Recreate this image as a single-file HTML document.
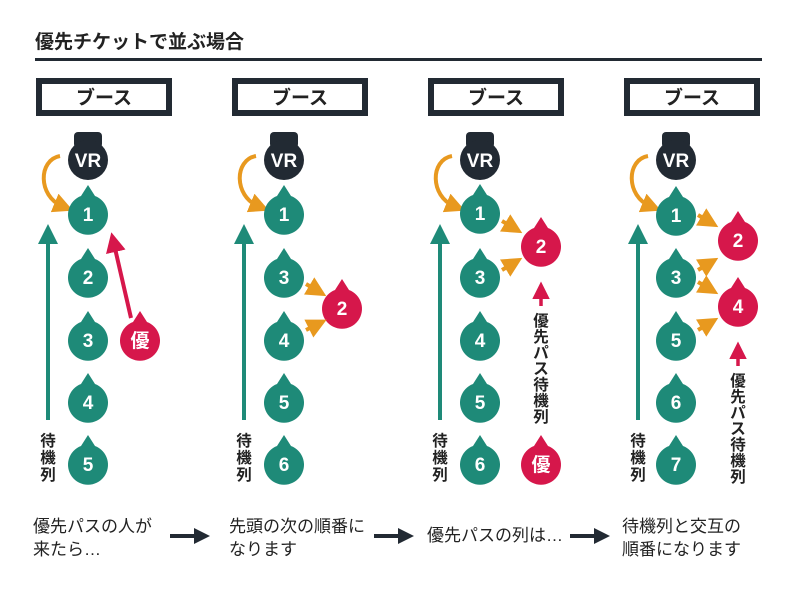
<!DOCTYPE html>
<html><head><meta charset="utf-8"><style>
html,body{margin:0;padding:0;background:#fff;}
svg{display:block;font-family:"Liberation Sans","Noto Sans CJK JP",sans-serif;}
.n{fill:#fff;font-weight:bold;font-size:19px;text-anchor:middle;}
.b{font-size:19px;font-weight:bold;fill:#222;text-anchor:middle;}
.t{font-size:17px;fill:#222;}
.v{font-size:15.5px;font-weight:bold;fill:#222;text-anchor:middle;}
</style></head><body>
<svg width="800" height="595" viewBox="0 0 800 595">
<defs>
<path id="d" d="M0,-29 L7,-18 A20,20 0 1,1 -7,-18 Z"/>
<marker id="ao" markerWidth="5" markerHeight="5" refX="2" refY="2.5" orient="auto" markerUnits="strokeWidth"><path d="M0,0 L5,2.5 L0,5 Z" fill="#e8991f"/></marker>
<marker id="ag" markerWidth="5" markerHeight="5" refX="2" refY="2.5" orient="auto" markerUnits="strokeWidth"><path d="M0,0 L5,2.5 L0,5 Z" fill="#1e8a78"/></marker>
<marker id="ar" markerWidth="5" markerHeight="5" refX="2" refY="2.5" orient="auto" markerUnits="strokeWidth"><path d="M0,0 L5,2.5 L0,5 Z" fill="#d6174b"/></marker>
<marker id="ak" markerWidth="4" markerHeight="4" refX="1" refY="2" orient="auto" markerUnits="strokeWidth"><path d="M0,0 L4,2 L0,4 Z" fill="#222a33"/></marker>
<g id="vr"><rect x="-14" y="-28" width="28" height="16" rx="4" fill="#222a33"/><circle r="20" fill="#222a33"/><text y="7" class="n">VR</text></g>
<path id="oc" d="M-28,-4 C-50,0 -50,36 -26,46" fill="none" stroke="#e8991f" stroke-width="4" marker-end="url(#ao)"/>
</defs>

<text x="35" y="48" font-size="19" font-weight="bold" fill="#222">優先チケットで並ぶ場合</text>
<rect x="35" y="58" width="727" height="3" fill="#222a33"/>

<g fill="#fff" stroke="#222a33" stroke-width="6">
<rect x="39" y="81" width="130" height="32"/>
<rect x="235" y="81" width="130" height="32"/>
<rect x="431" y="81" width="130" height="32"/>
<rect x="627" y="81" width="130" height="32"/>
</g>
<text x="104" y="104" class="b">ブース</text>
<text x="300" y="104" class="b">ブース</text>
<text x="496" y="104" class="b">ブース</text>
<text x="692" y="104" class="b">ブース</text>

<!-- column 1 -->
<use href="#vr" x="88" y="160"/>
<use href="#oc" x="88" y="160"/>
<line x1="48" y1="420" x2="48" y2="236" stroke="#1e8a78" stroke-width="4" marker-end="url(#ag)"/>
<text x="48" y="446" class="v">待</text><text x="48" y="463" class="v">機</text><text x="48" y="480" class="v">列</text>
<g fill="#1e8a78">
<use href="#d" x="88" y="214"/><use href="#d" x="88" y="277"/><use href="#d" x="88" y="340"/><use href="#d" x="88" y="402"/><use href="#d" x="88" y="464"/>
</g>
<text x="88" y="221" class="n">1</text><text x="88" y="284" class="n">2</text><text x="88" y="347" class="n">3</text><text x="88" y="409" class="n">4</text><text x="88" y="471" class="n">5</text>
<line x1="131" y1="318" x2="114" y2="244" stroke="#d6174b" stroke-width="4" marker-end="url(#ar)"/>
<use href="#d" x="140" y="340" fill="#d6174b"/><text x="140" y="347" class="n">優</text>

<!-- column 2 -->
<use href="#vr" x="284" y="160"/>
<use href="#oc" x="284" y="160"/>
<line x1="244" y1="420" x2="244" y2="236" stroke="#1e8a78" stroke-width="4" marker-end="url(#ag)"/>
<text x="244" y="446" class="v">待</text><text x="244" y="463" class="v">機</text><text x="244" y="480" class="v">列</text>
<g fill="#1e8a78">
<use href="#d" x="284" y="214"/><use href="#d" x="284" y="277"/><use href="#d" x="284" y="340"/><use href="#d" x="284" y="402"/><use href="#d" x="284" y="464"/>
</g>
<text x="284" y="221" class="n">1</text><text x="284" y="284" class="n">3</text><text x="284" y="347" class="n">4</text><text x="284" y="409" class="n">5</text><text x="284" y="471" class="n">6</text>
<use href="#d" x="342" y="308" fill="#d6174b"/><text x="342" y="315" class="n">2</text>
<line x1="306" y1="284" x2="316" y2="290" stroke="#e8991f" stroke-width="4" marker-end="url(#ao)"/>
<line x1="306" y1="330" x2="316" y2="325" stroke="#e8991f" stroke-width="4" marker-end="url(#ao)"/>

<!-- column 3 -->
<use href="#vr" x="480" y="160"/>
<use href="#oc" x="480" y="160"/>
<line x1="440" y1="420" x2="440" y2="236" stroke="#1e8a78" stroke-width="4" marker-end="url(#ag)"/>
<text x="440" y="446" class="v">待</text><text x="440" y="463" class="v">機</text><text x="440" y="480" class="v">列</text>
<g fill="#1e8a78">
<use href="#d" x="480" y="213"/><use href="#d" x="480" y="277"/><use href="#d" x="480" y="340"/><use href="#d" x="480" y="402"/><use href="#d" x="480" y="464"/>
</g>
<text x="480" y="220" class="n">1</text><text x="480" y="284" class="n">3</text><text x="480" y="347" class="n">4</text><text x="480" y="409" class="n">5</text><text x="480" y="471" class="n">6</text>
<use href="#d" x="541" y="246" fill="#d6174b"/><text x="541" y="253" class="n">2</text>
<line x1="502" y1="221" x2="512" y2="227" stroke="#e8991f" stroke-width="4" marker-end="url(#ao)"/>
<line x1="502" y1="270" x2="512" y2="264" stroke="#e8991f" stroke-width="4" marker-end="url(#ao)"/>
<line x1="541" y1="306" x2="541" y2="292" stroke="#d6174b" stroke-width="3.5" marker-end="url(#ar)"/>
<text x="541" y="326" class="v">優</text><text x="541" y="342" class="v">先</text><text x="541" y="358" class="v">パ</text><text x="541" y="374" class="v">ス</text><text x="541" y="390" class="v">待</text><text x="541" y="406" class="v">機</text><text x="541" y="422" class="v">列</text>
<use href="#d" x="541" y="464" fill="#d6174b"/><text x="541" y="471" class="n">優</text>

<!-- column 4 -->
<use href="#vr" x="676" y="160"/>
<use href="#oc" x="676" y="160"/>
<line x1="638" y1="420" x2="638" y2="236" stroke="#1e8a78" stroke-width="4" marker-end="url(#ag)"/>
<text x="638" y="446" class="v">待</text><text x="638" y="463" class="v">機</text><text x="638" y="480" class="v">列</text>
<g fill="#1e8a78">
<use href="#d" x="676" y="215"/><use href="#d" x="676" y="277"/><use href="#d" x="676" y="340"/><use href="#d" x="676" y="402"/><use href="#d" x="676" y="464"/>
</g>
<text x="676" y="222" class="n">1</text><text x="676" y="284" class="n">3</text><text x="676" y="347" class="n">5</text><text x="676" y="409" class="n">6</text><text x="676" y="471" class="n">7</text>
<use href="#d" x="738" y="240" fill="#d6174b"/><text x="738" y="247" class="n">2</text>
<use href="#d" x="738" y="306" fill="#d6174b"/><text x="738" y="313" class="n">4</text>
<line x1="698" y1="215" x2="708" y2="221" stroke="#e8991f" stroke-width="4" marker-end="url(#ao)"/>
<line x1="698" y1="270" x2="708" y2="264" stroke="#e8991f" stroke-width="4" marker-end="url(#ao)"/>
<line x1="698" y1="282" x2="708" y2="288" stroke="#e8991f" stroke-width="4" marker-end="url(#ao)"/>
<line x1="698" y1="330" x2="708" y2="324" stroke="#e8991f" stroke-width="4" marker-end="url(#ao)"/>
<line x1="738" y1="366" x2="738" y2="352" stroke="#d6174b" stroke-width="3.5" marker-end="url(#ar)"/>
<text x="738" y="386" class="v">優</text><text x="738" y="402" class="v">先</text><text x="738" y="418" class="v">パ</text><text x="738" y="434" class="v">ス</text><text x="738" y="450" class="v">待</text><text x="738" y="466" class="v">機</text><text x="738" y="482" class="v">列</text>

<text x="33" y="532" class="t">優先パスの人が</text>
<text x="33" y="555" class="t">来たら…</text>
<text x="229" y="532" class="t">先頭の次の順番に</text>
<text x="229" y="555" class="t">なります</text>
<text x="427" y="541" class="t">優先パスの列は…</text>
<text x="622" y="532" class="t">待機列と交互の</text>
<text x="622" y="555" class="t">順番になります</text>
<g stroke="#222a33" stroke-width="4">
<line x1="170" y1="536" x2="198" y2="536" marker-end="url(#ak)"/>
<line x1="374" y1="536" x2="402" y2="536" marker-end="url(#ak)"/>
<line x1="570" y1="536" x2="598" y2="536" marker-end="url(#ak)"/>
</g>
</svg>
</body></html>
